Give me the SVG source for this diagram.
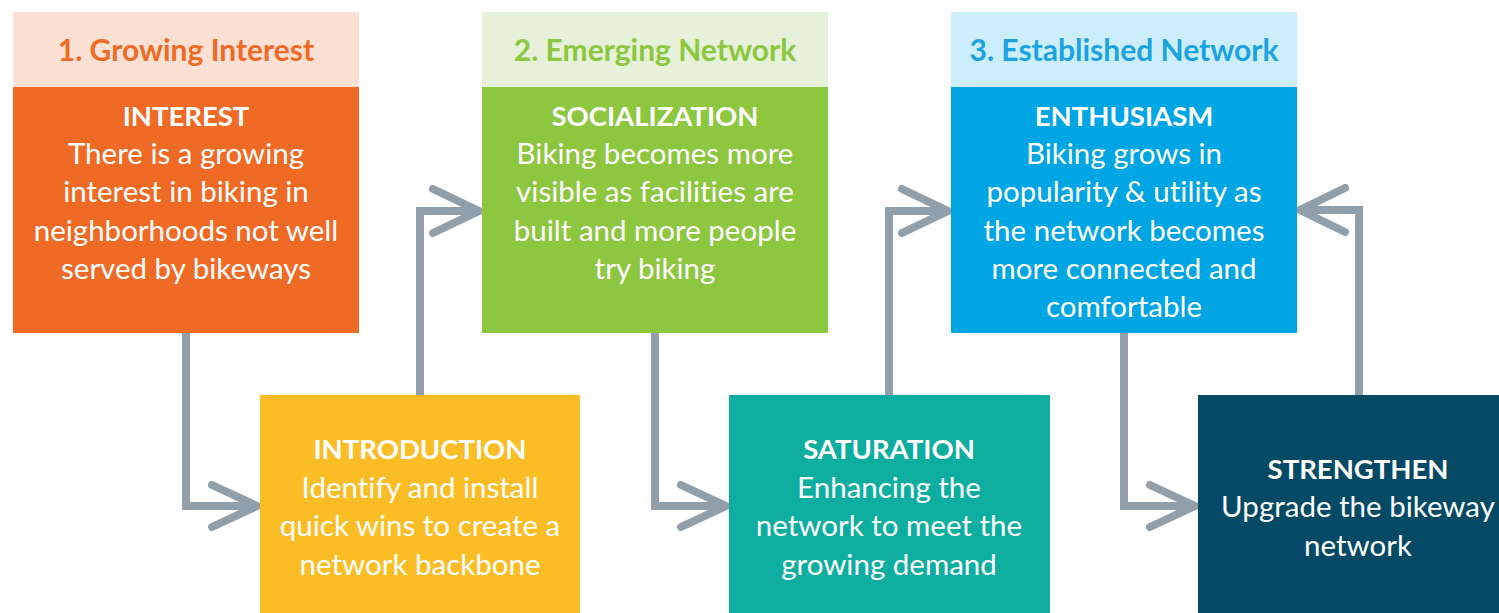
<svg xmlns="http://www.w3.org/2000/svg" width="1499" height="613" viewBox="0 0 1499 613">
<style>
.t{font-family:Lato,"Open Sans","Liberation Sans",sans-serif;font-size:29.5px;fill:#fff;text-anchor:middle;font-variant-ligatures:none}
.b{font-weight:bold;font-size:27.5px}
.h{font-family:Lato,"Open Sans","Liberation Sans",sans-serif;font-size:30px;font-weight:bold;text-anchor:middle;font-variant-ligatures:none}
.c{fill:none;stroke:#919FAA;stroke-width:8}
.a{fill:none;stroke:#919FAA;stroke-width:8;stroke-linecap:round;stroke-linejoin:miter}
</style>
<rect width="1499" height="613" fill="#fff"/>
<g id="connectors">
<path class="c" d="M186,333 V506 H254"/>
<path class="a" d="M212,485 L257,506 L212,527"/>
<path class="c" d="M420,395 V211 H478"/>
<path class="a" d="M433,189 L479,211 L433,233"/>
<path class="c" d="M655,333 V506 H723"/>
<path class="a" d="M681,485 L726,506 L681,527"/>
<path class="c" d="M889,395 V211 H947"/>
<path class="a" d="M902,189 L948,211 L902,233"/>
<path class="c" d="M1124,333 V506 H1192"/>
<path class="a" d="M1150,485 L1195,506 L1150,527"/>
<path class="c" d="M1359,395 V210 H1302"/>
<path class="a" d="M1345,188 L1300,210 L1345,232"/>
</g>
<g id="stage1">
<rect x="13" y="12" width="346" height="75" fill="#FCE0D3"/>
<text class="h" x="186" y="61" fill="#EE6B26">1. Growing Interest</text>
</g>
<g id="interest">
<rect x="13" y="87" width="346" height="246" fill="#EF6A25"/>
<text class="t" x="186" y="126"><tspan class="b">INTEREST</tspan><tspan x="186" y="164">There is a growing</tspan><tspan x="186" y="202">interest in biking in</tspan><tspan x="186" y="241">neighborhoods not well</tspan><tspan x="186" y="279">served by bikeways</tspan></text>
</g>
<g id="stage2">
<rect x="482" y="12" width="346" height="75" fill="#E5F1D8"/>
<text class="h" x="655" y="61" fill="#8DC63F">2. Emerging Network</text>
</g>
<g id="socialization">
<rect x="482" y="87" width="346" height="246" fill="#8DC63F"/>
<text class="t" x="655" y="126"><tspan class="b">SOCIALIZATION</tspan><tspan x="655" y="164">Biking becomes more</tspan><tspan x="655" y="202">visible as facilities are</tspan><tspan x="655" y="241">built and more people</tspan><tspan x="655" y="279">try biking</tspan></text>
</g>
<g id="stage3">
<rect x="951" y="12" width="346" height="75" fill="#CCEEFB"/>
<text class="h" x="1124" y="61" fill="#1AA3E0">3. Established Network</text>
</g>
<g id="enthusiasm">
<rect x="951" y="87" width="346" height="246" fill="#00A5E3"/>
<text class="t" x="1124" y="126"><tspan class="b">ENTHUSIASM</tspan><tspan x="1124" y="164">Biking grows in</tspan><tspan x="1124" y="202">popularity &amp; utility as</tspan><tspan x="1124" y="241">the network becomes</tspan><tspan x="1124" y="279">more connected and</tspan><tspan x="1124" y="317">comfortable</tspan></text>
</g>
<g id="introduction">
<rect x="260" y="395" width="320" height="218" fill="#FBBD26"/>
<text class="t" x="420" y="459"><tspan class="b">INTRODUCTION</tspan><tspan x="420" y="498">Identify and install</tspan><tspan x="420" y="536">quick wins to create a</tspan><tspan x="420" y="575">network backbone</tspan></text>
</g>
<g id="saturation">
<rect x="729" y="395" width="321" height="218" fill="#0DAE9F"/>
<text class="t" x="889" y="459"><tspan class="b">SATURATION</tspan><tspan x="889" y="498">Enhancing the</tspan><tspan x="889" y="536">network to meet the</tspan><tspan x="889" y="575">growing demand</tspan></text>
</g>
<g id="strengthen">
<rect x="1198" y="395" width="301" height="218" fill="#044A64"/>
<text class="t" x="1358" y="479"><tspan class="b">STRENGTHEN</tspan><tspan x="1358" y="517">Upgrade the bikeway</tspan><tspan x="1358" y="556">network</tspan></text>
</g>
</svg>
